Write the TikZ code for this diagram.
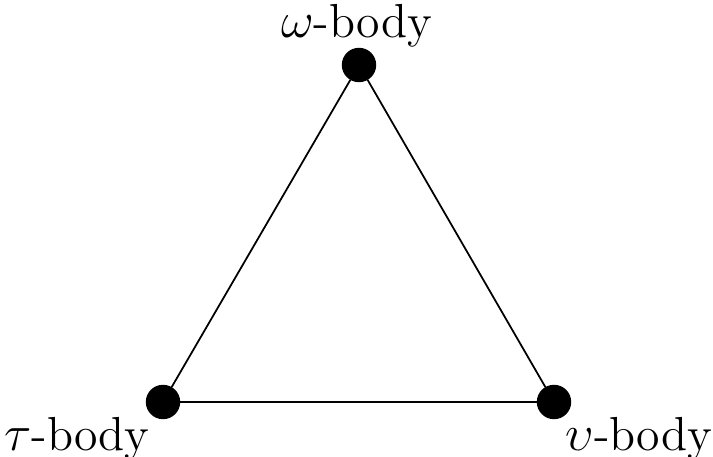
\documentclass[tikz,border=0pt]{standalone}
\usepackage{amsmath}
\usepackage{tikz}
\usetikzlibrary{positioning, calc}
\tikzset{
  body/.style={circle, fill=black, draw=black, inner sep=0pt,
    minimum size=0.33cm},
  bodylabel/.style={font=\fontsize{13.6}{16}\selectfont, inner sep=0pt, anchor=base},
  edge/.style={line width=0.5pt, color=black}
}

\begin{document}
\begin{tikzpicture}
  \useasboundingbox (0,0) rectangle (7.13,4.57);

  % Bodies
  \node[body] (om) at (3.59,3.92) {};
  \node[body] (ta) at (1.63,0.55) {};
  \node[body] (up) at (5.54,0.55) {};

  % Links
  \draw[edge] (om) -- (ta);
  \draw[edge] (ta) -- (up);
  \draw[edge] (up) -- (om);

  % Labels
  \node[bodylabel] (omlab) at ($(om)+(-0.025,0.27)$) {$\omega$-body};
  \node[bodylabel] (talab) at ($(ta)+(-0.86,-0.49)$) {$\tau$-body};
  \node[bodylabel] (uplab) at ($(up)+(0.85,-0.49)$) {$\upsilon$-body};
\end{tikzpicture}
\end{document}
